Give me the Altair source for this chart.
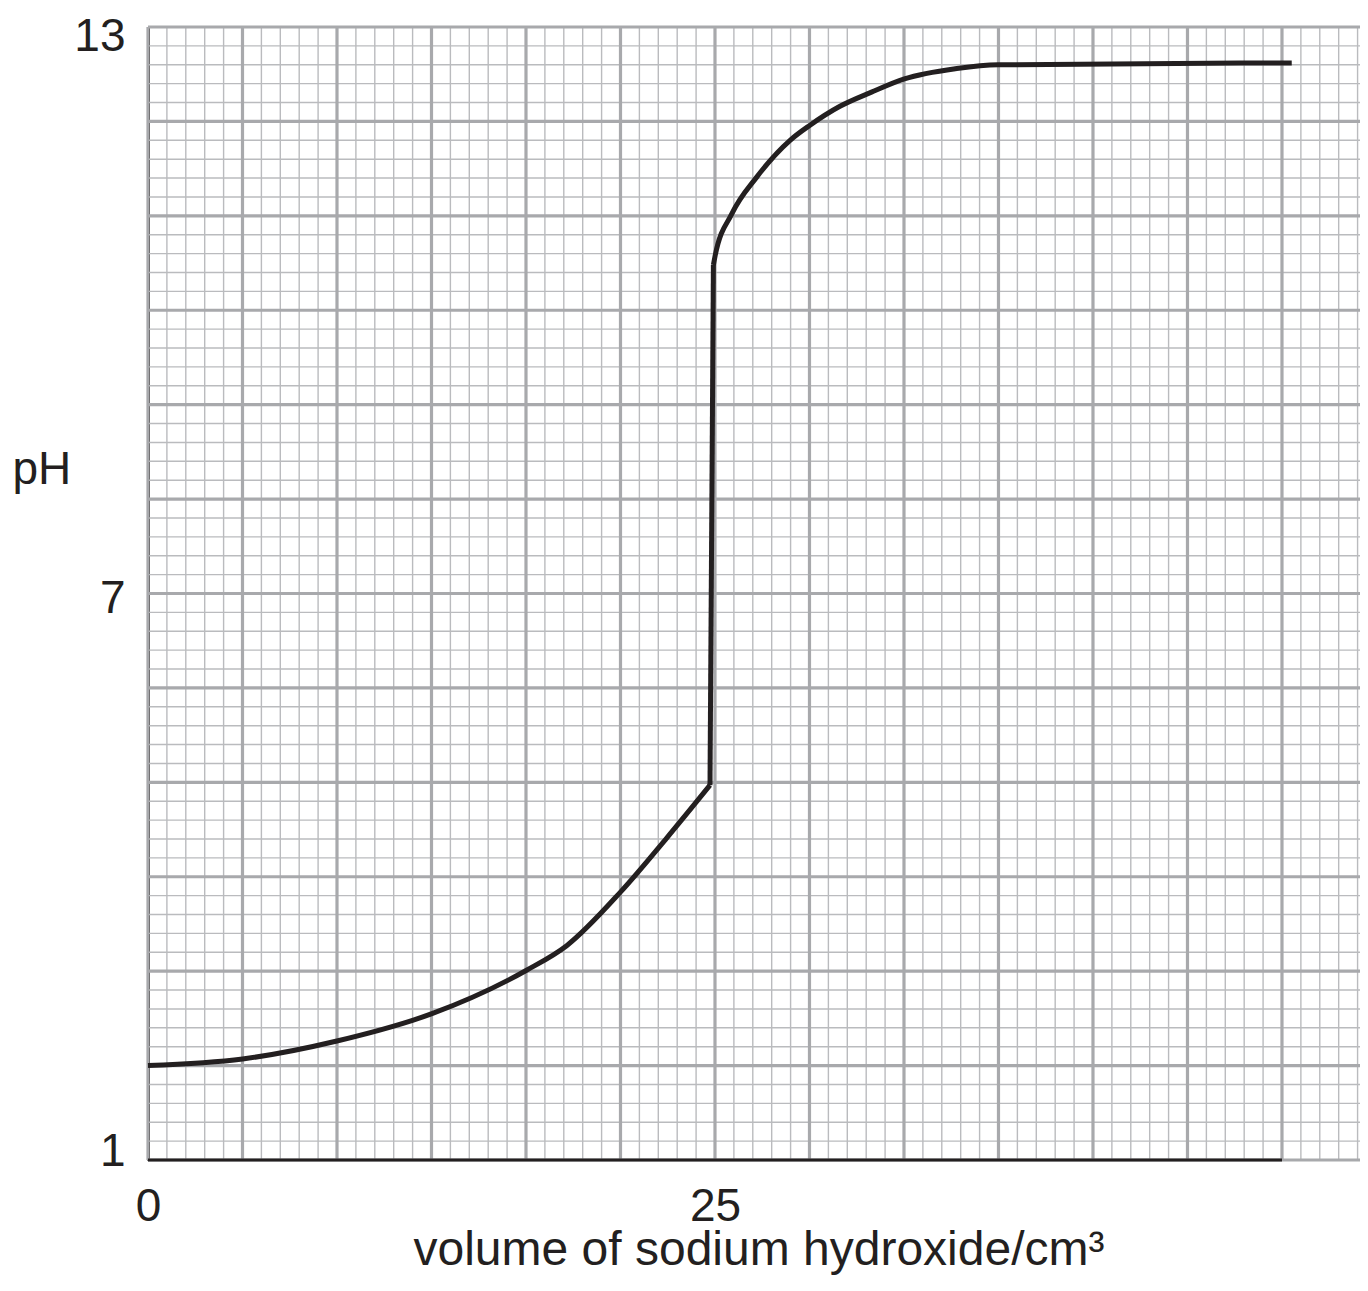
import altair as alt
import pandas as pd

# ---- data ----
# lower (acidic) part of the curve
low_volume = [0, 4.17, 8.33, 12.52, 16.69, 18.46, 20.84, 22.87, 24.78]
low_ph = [2.0, 2.07, 2.26, 2.55, 3.01, 3.27, 3.84, 4.41, 4.97]
# near-vertical jump at the end point
rise_volume = [24.78, 24.93]
rise_ph = [4.97, 10.48]
# upper (alkaline) part of the curve
high_volume = [24.93, 25.0, 25.74, 26.84, 28.31, 29.19, 30.51, 31.9, 33.35, 35.66, 37.49, 50.43]
high_ph = [10.48, 10.57, 11.02, 11.41, 11.8, 11.96, 12.16, 12.31, 12.45, 12.56, 12.6, 12.62]

x_tick_values = [0, 25]
y_tick_values = [1, 7, 13]
x_axis_line = [0, 50]
x_title = "volume of sodium hydroxide/cm³"
y_title = "pH"

# graph-paper grid (style): major square = 25/6 cm3 horizontally, 1 pH vertically
X_MAX = 53.44
x_major = [i * 25 / 6 for i in range(13)]
x_minor = [i * 25 / 30 for i in range(65)]
y_major = list(range(1, 14))
y_minor = [1 + i * 0.2 for i in range(61)]

FONT = "Liberation Sans"
INK = "#231f20"
MINOR_C = "#babbbe"
MAJOR_C = "#a8a9ac"
FS = 46
TITLE_FS = 48

xscale = alt.Scale(domain=[0, X_MAX], nice=False, zero=False)
yscale = alt.Scale(domain=[1, 13], nice=False, zero=False)

curve_df = pd.concat([
    pd.DataFrame({"volume": low_volume, "ph": low_ph, "seg": "a"}),
    pd.DataFrame({"volume": rise_volume, "ph": rise_ph, "seg": "b"}),
    pd.DataFrame({"volume": high_volume, "ph": high_ph, "seg": "c"}),
], ignore_index=True)

# identical axis definitions are given to every layer so that they merge
x_axis = alt.Axis(values=x_tick_values, grid=False, domain=False, ticks=False,
                  labelPadding=24, labelFontSize=FS, labelFont=FONT,
                  labelColor=INK, labelFlush=False,
                  title=x_title, titleFont=FONT, titleFontSize=TITLE_FS,
                  titleFontWeight="normal", titleColor=INK,
                  titleAlign="left", titleBaseline="alphabetic",
                  titleX=265, titleY=104)
y_axis = alt.Axis(values=y_tick_values, grid=False, domain=True, domainColor=INK,
                  domainWidth=3, ticks=False, labelPadding=23,
                  labelFontSize=FS, labelFont=FONT, labelColor=INK,
                  labelBaseline={"condition": {"test": "datum.value == 1",
                                               "value": "alphabetic"},
                                 "value": "middle"},
                  labelOffset={"condition": {"test": "datum.value == 13", "value": 9},
                               "value": 5},
                  title=y_title, titleFont=FONT, titleFontSize=FS,
                  titleFontWeight="normal", titleColor=INK, titleAngle=0,
                  titleAlign="left", titleBaseline="alphabetic",
                  titleX=-136, titleY=456)


def X(field):
    return alt.X(field, scale=xscale, axis=x_axis)


def Y(field):
    return alt.Y(field, scale=yscale, axis=y_axis)


vminor = alt.Chart(pd.DataFrame({"v": x_minor})).mark_rule(
    color=MINOR_C, strokeWidth=1.4).encode(x=X("v:Q"))
hminor = alt.Chart(pd.DataFrame({"v": y_minor})).mark_rule(
    color=MINOR_C, strokeWidth=1.4).encode(y=Y("v:Q"))
vmajor = alt.Chart(pd.DataFrame({"v": x_major})).mark_rule(
    color=MAJOR_C, strokeWidth=3.2).encode(x=X("v:Q"))
hmajor = alt.Chart(pd.DataFrame({"v": y_major})).mark_rule(
    color=MAJOR_C, strokeWidth=3.2).encode(y=Y("v:Q"))

curve = alt.Chart(curve_df).mark_line(
    color=INK, strokeWidth=5, interpolate="monotone", strokeCap="butt",
    strokeJoin="round"
).encode(x=X("volume:Q"), y=Y("ph:Q"), detail="seg:N")

axis_df = pd.DataFrame({"x0": [x_axis_line[0]], "x1": [x_axis_line[1]], "y": [1]})
xaxis_line = alt.Chart(axis_df).mark_rule(color=INK, strokeWidth=3.2).encode(
    x=X("x0:Q"), x2="x1:Q", y=Y("y:Q"))

chart = alt.layer(vminor, hminor, vmajor, hmajor, curve, xaxis_line).properties(
    width=1212, height=1133,
    autosize=alt.AutoSizeParams(type="none"),
    padding={"left": 140, "top": 19, "right": 0, "bottom": 118},
).configure(background="white", view=alt.ViewConfig(stroke=None),
            axis=alt.AxisConfig(zindex=1))

chart.save("out.html", embed_options={"renderer": "svg", "actions": False})
